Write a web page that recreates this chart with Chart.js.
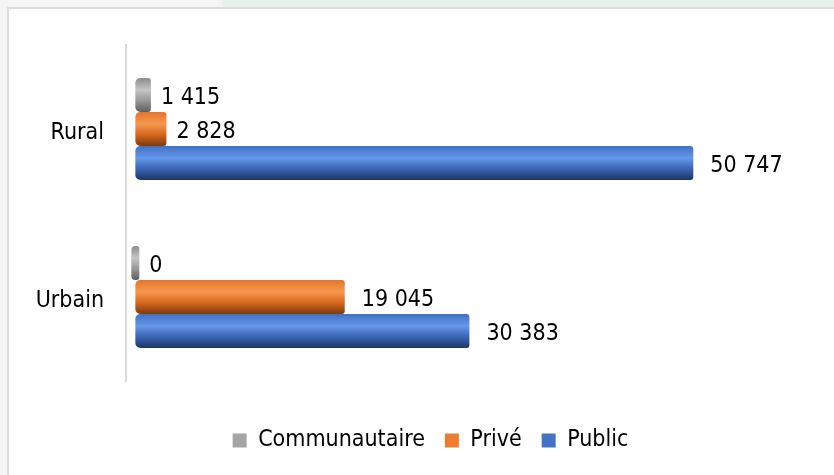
<!DOCTYPE html>
<html>
<head>
<meta charset="utf-8">
<script src="https://cdn.jsdelivr.net/npm/chart.js@4.4.1/dist/chart.umd.min.js"></script>
<style>
  html, body { margin: 0; padding: 0; width: 834px; height: 475px; overflow: hidden; background: #f5f5f5; }
  #strip { position: absolute; left: 222px; top: 0; width: 612px; height: 8px; background: #e8f0ea; }
  #frame { position: absolute; left: 7px; top: 7px; width: 860px; height: 480px; background: #dcdcdc; }
  #box { position: absolute; left: 9px; top: 9px; width: 843px; height: 466px; background: #ffffff; }
</style>
</head>
<body>
<div id="strip"></div>
<div id="frame"></div>
<div id="box"><canvas id="c" width="843" height="466"></canvas></div>
<script>
const categories = ["Rural", "Urbain"];
const seriesNames = ["Communautaire", "Privé", "Public"];
const communautaire = [1415, 0];
const prive = [2828, 19045];
const publicValues = [50747, 30383];

const baseColors = ["#a5a5a5", "#ed7d31", "#4472c4"];
const gradStops = [
  ["#8c8c8c", "#c4c4c4", "#9a9a9a", "#5e5e5e"],
  ["#e47428", "#f7984f", "#d8691f", "#7e3a0e"],
  ["#4170c4", "#6598ea", "#3d68b8", "#1c3564"]
];

const FONT = "'DejaVu Sans Condensed', 'DejaVu Sans', sans-serif";

function fmt(v) {
  return String(v).replace(/\B(?=(\d{3})+(?!\d))/g, " ");
}

const cylinderPlugin = {
  id: "cylinder",
  beforeDatasetsDraw(chart) {
    const ctx = chart.ctx;
    chart.data.datasets.forEach((ds, di) => {
      const meta = chart.getDatasetMeta(di);
      meta.data.forEach(el => {
        const h = el.height;
        const top = el.y - h / 2;
        const g = ctx.createLinearGradient(0, top, 0, top + h);
        const s = gradStops[di];
        g.addColorStop(0, s[0]);
        g.addColorStop(0.35, s[1]);
        g.addColorStop(0.65, s[2]);
        g.addColorStop(1, s[3]);
        el.options = Object.assign({}, el.options, { backgroundColor: g });
      });
    });
  },
  afterDatasetsDraw(chart) {
    const ctx = chart.ctx;
    ctx.save();
    ctx.font = "23px " + FONT;
    ctx.fillStyle = "#000000";
    ctx.textAlign = "left";
    ctx.textBaseline = "middle";
    chart.data.datasets.forEach((ds, di) => {
      const meta = chart.getDatasetMeta(di);
      meta.data.forEach((el, i) => {
        const v = ds.data[i];
        const gap = v > 10000 ? 17 : 10;
        const end = Math.max(el.x, el.base);
        ctx.fillText(fmt(v), end + gap, el.y + 3);
      });
    });
    ctx.restore();
  }
};

new Chart(document.getElementById("c"), {
  type: "bar",
  data: {
    labels: categories,
    datasets: [
      { label: seriesNames[0], data: communautaire, backgroundColor: baseColors[0] },
      { label: seriesNames[1], data: prive, backgroundColor: baseColors[1] },
      { label: seriesNames[2], data: publicValues, backgroundColor: baseColors[2] }
    ]
  },
  options: {
    indexAxis: "y",
    responsive: false,
    animation: false,
    events: [],
    datasets: {
      bar: {
        barPercentage: 1.0,
        categoryPercentage: 0.607,
        minBarLength: 8,
        borderRadius: { topLeft: 5, bottomLeft: 5, topRight: 3, bottomRight: 3 },
        borderSkipped: false
      }
    },
    layout: { padding: { top: 36, right: 0, left: 0, bottom: 13 } },
    scales: {
      x: {
        display: true,
        min: -850,
        max: 65180,
        afterFit(scale) { scale.height = 28; },
        grid: { display: false, drawTicks: false },
        border: { display: false },
        ticks: { display: false }
      },
      y: {
        afterFit(scale) { scale.width = 117; },
        grid: { display: false, drawTicks: false },
        border: { display: true, color: "#d9d9d9", width: 2 },
        ticks: {
          color: "#000000",
          padding: 22,
          labelOffset: 4,
          font: { family: FONT, size: 23 }
        }
      }
    },
    plugins: {
      tooltip: { enabled: false },
      legend: {
        position: "bottom",
        labels: {
          color: "#000000",
          boxWidth: 14,
          boxHeight: 14,
          padding: 20,
          font: { family: FONT, size: 23 },
          generateLabels(chart) {
            return chart.data.datasets.map((ds, i) => ({
              text: ds.label,
              fillStyle: baseColors[i],
              strokeStyle: baseColors[i],
              lineWidth: 0,
              datasetIndex: i,
              hidden: false
            }));
          }
        }
      }
    }
  },
  plugins: [cylinderPlugin]
});
</script>
</body>
</html>
